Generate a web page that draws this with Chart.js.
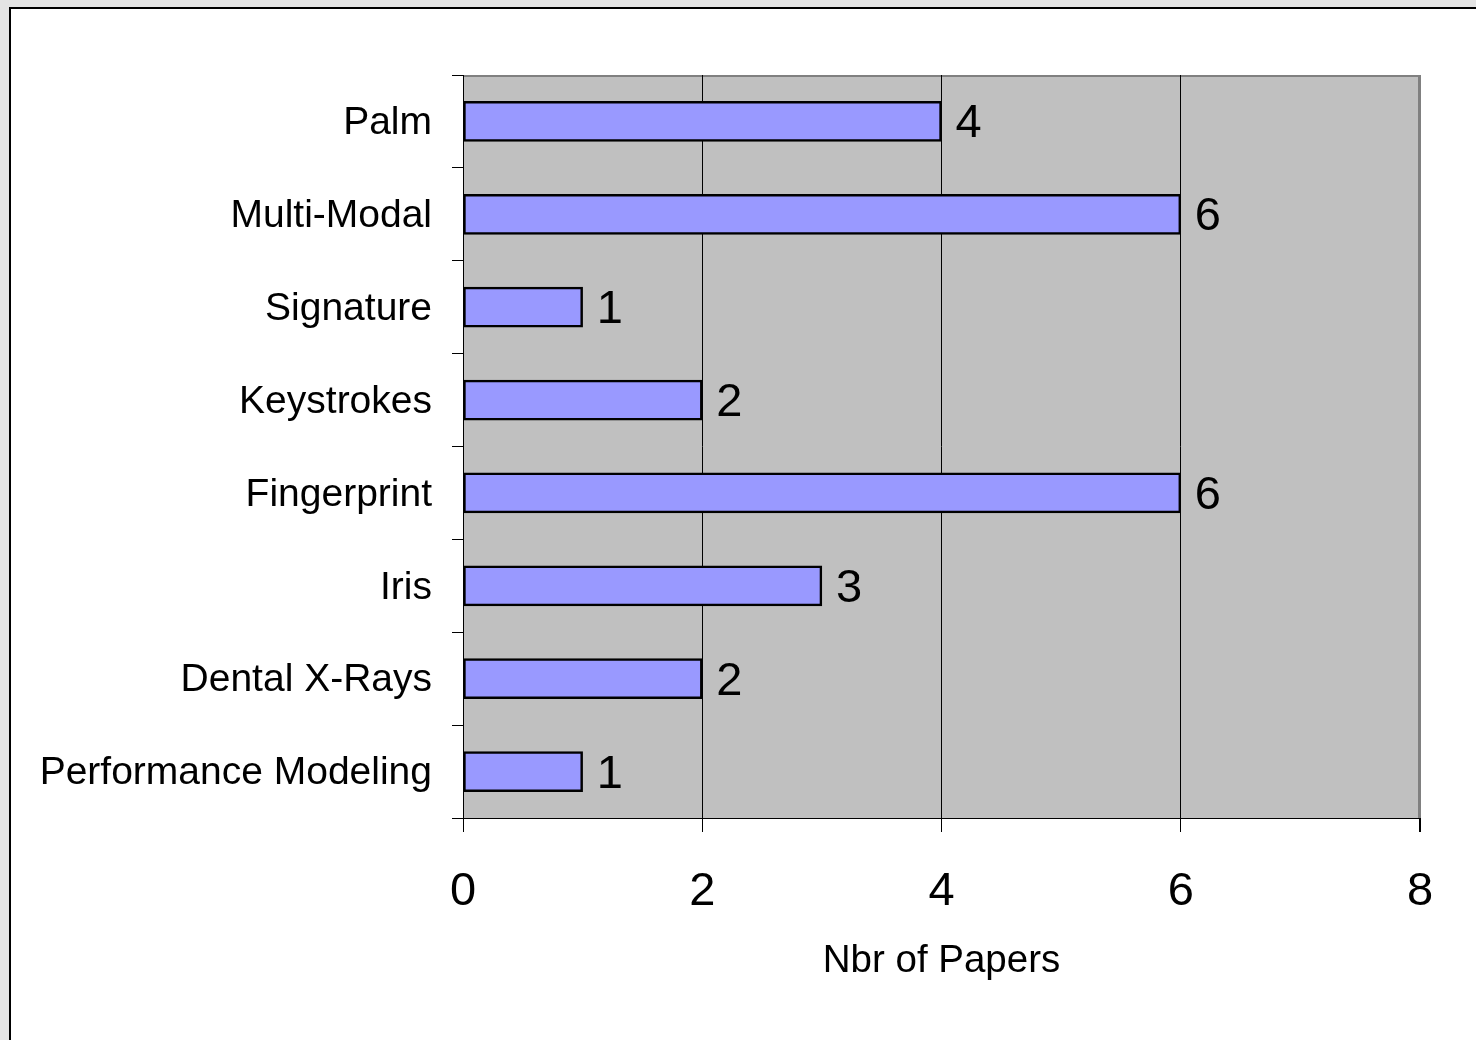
<!DOCTYPE html>
<html>
<head>
<meta charset="utf-8">
<script src="https://cdn.jsdelivr.net/npm/chart.js@4"></script>
<style>
  html, body { margin: 0; padding: 0; background: #e4e4e4; width: 1476px; height: 1040px; overflow: hidden; }
  #frame { position: absolute; left: 9px; top: 7px; right: -10px; bottom: -10px; background: #fff;
           border-left: 2px solid #000; border-top: 2px solid #000; }
  #myChart { position: absolute; left: 0; top: 0; }
</style>
</head>
<body>
<div id="frame"></div>
<canvas id="myChart" width="1476" height="1040"></canvas>
<script>
const categories = [
  "Palm",
  "Multi-Modal",
  "Signature",
  "Keystrokes",
  "Fingerprint",
  "Iris",
  "Dental X-Rays",
  "Performance Modeling",
];
const paperCounts = [4, 6, 1, 2, 6, 3, 2, 1];
const xMin = 0;
const xMax = 8;
const xStep = 2;
const axisTitle = "Nbr of Papers";

const FONT = "'Liberation Sans', Arial, sans-serif";

// gray plot area with gray top/right border
const plotBackground = {
  id: "plotBackground",
  beforeDraw(chart) {
    const { ctx, chartArea: a } = chart;
    ctx.save();
    ctx.fillStyle = "#c0c0c0";
    ctx.fillRect(a.left, a.top, a.right - a.left, a.bottom - a.top);
    ctx.strokeStyle = "#808080";
    ctx.lineWidth = 2;
    ctx.beginPath();
    ctx.moveTo(a.left, a.top + 1);
    ctx.lineTo(a.right - 1, a.top + 1);
    ctx.lineTo(a.right - 1, a.bottom);
    ctx.stroke();
    ctx.restore();
  },
};

// value labels right of each bar
const valueLabels = {
  id: "valueLabels",
  afterDatasetsDraw(chart) {
    const { ctx } = chart;
    ctx.save();
    ctx.font = "47px " + FONT;
    ctx.fillStyle = "#000";
    ctx.textAlign = "left";
    ctx.textBaseline = "middle";
    chart.getDatasetMeta(0).data.forEach((bar, i) => {
      ctx.fillText(String(paperCounts[i]), bar.x + 14, bar.y + 3);
    });
    ctx.restore();
  },
};

new Chart(document.getElementById("myChart"), {
  type: "bar",
  data: {
    labels: categories,
    datasets: [
      {
        data: paperCounts,
        backgroundColor: "#9999ff",
        borderColor: "#000",
        borderWidth: 2.5,
        borderSkipped: false,
        barThickness: 40,
      },
    ],
  },
  options: {
    indexAxis: "y",
    responsive: false,
    animation: false,
    layout: { padding: { left: 0, top: 75, right: 56, bottom: 0 } },
    plugins: {
      legend: { display: false },
      tooltip: { enabled: false },
    },
    scales: {
      x: {
        min: xMin,
        max: xMax,
        ticks: {
          stepSize: xStep,
          color: "#000",
          padding: 32,
          font: { family: FONT, size: 47 },
        },
        grid: {
          color: (c) => (c.tick && c.tick.value === xMax ? "#808080" : "#000"),
          lineWidth: (c) => (c.tick && c.tick.value === xMax ? 2 : 1),
          tickColor: "#000",
          tickLength: 14,
        },
        border: { color: "#000", width: 1 },
        title: {
          display: true,
          text: axisTitle,
          color: "#000",
          font: { family: FONT, size: 38.5 },
          padding: { top: 0, bottom: 56 },
        },
        afterFit(scale) {
          scale.height = 222;
        },
      },
      y: {
        ticks: {
          color: "#000",
          padding: 20,
          labelOffset: 2,
          font: { family: FONT, size: 39 },
        },
        grid: {
          offset: true,
          drawOnChartArea: false,
          tickColor: "#000",
          tickLength: 11,
        },
        border: { color: "#000", width: 1 },
        afterFit(scale) {
          scale.width = 463;
        },
      },
    },
  },
  plugins: [plotBackground, valueLabels],
});
</script>
</body>
</html>
